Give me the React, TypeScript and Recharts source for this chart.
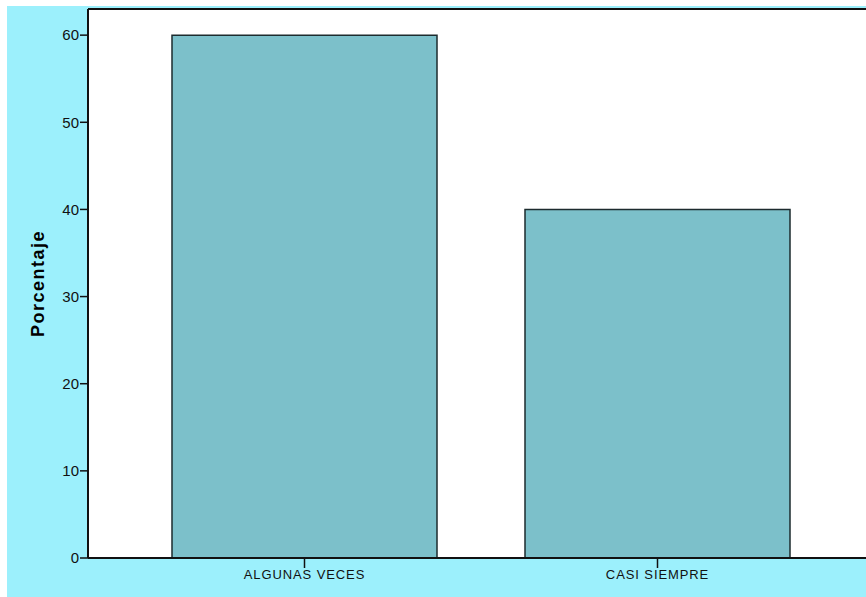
import { Bar, BarChart, ReferenceLine, XAxis, YAxis } from "recharts"

const categories = ["ALGUNAS VECES", "CASI SIEMPRE"]
const porcentaje = [60, 40]
const yTicks = [0, 10, 20, 30, 40, 50, 60]

const data = categories.map((name, i) => ({ name, value: porcentaje[i] }))

export default function App() {
  return (
    <div
      style={{
        position: "fixed",
        left: 7,
        top: 6,
        width: 859,
        height: 591,
        overflow: "hidden",
        background: "#9cf0fc",
        fontFamily: "'Liberation Sans', Arial, sans-serif",
      }}
    >
      <BarChart
        width={870}
        height={591}
        data={data}
        margin={{ top: 3, right: 3, bottom: 9, left: 0 }}
        barSize={265}
      >
        <rect x={81} y={3} width={790} height={549} fill="#ffffff" />
        <XAxis
          dataKey="name"
          height={30}
          padding={{ left: 40, right: 40 }}
          axisLine={{ stroke: "#111", strokeWidth: 2 }}
          tickLine={{ stroke: "#111", strokeWidth: 1.5 }}
          tickSize={10}
          tick={{ fill: "#111", fontSize: 13, letterSpacing: 0.9 }}
        />
        <YAxis
          width={81}
          domain={[0, 63]}
          ticks={yTicks}
          interval={0}
          axisLine={{ stroke: "#111", strokeWidth: 2 }}
          tickLine={{ stroke: "#111", strokeWidth: 1.5 }}
          tickSize={8}
          tickMargin={1}
          tick={{ fill: "#111", fontSize: 15 }}
          label={{
            value: "Porcentaje",
            angle: -90,
            position: "insideLeft",
            offset: 31,
            style: {
              fill: "#000",
              fontSize: 18,
              fontWeight: "bold",
              letterSpacing: 1.5,
              textAnchor: "middle",
            },
          }}
        />
        <ReferenceLine y={63} stroke="#111" strokeWidth={2} />
        <Bar
          dataKey="value"
          fill="#7cc0ca"
          stroke="#1c2b2e"
          strokeWidth={1.5}
          isAnimationActive={false}
        />
      </BarChart>
    </div>
  )
}
